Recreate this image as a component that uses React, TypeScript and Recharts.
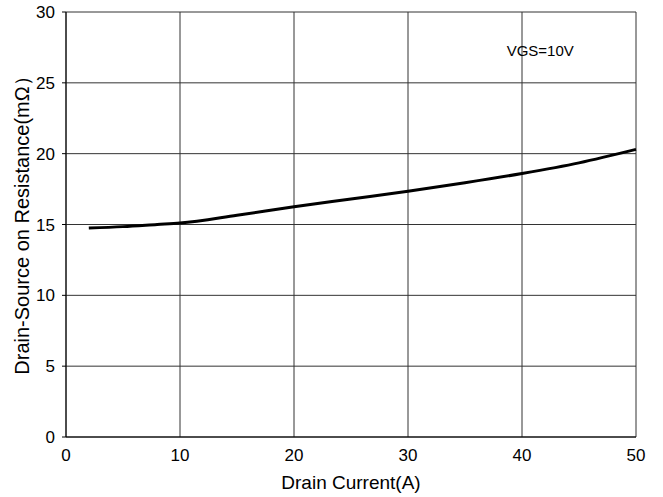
import React from 'react';
import {
    LineChart, Line, XAxis, YAxis, CartesianGrid, ReferenceDot,
} from 'recharts';

// Drain current (A) vs on-resistance (mOhm)
const current = [2, 5, 8, 10, 15, 20, 25, 30, 35, 40, 45, 50];
const rdsOn = [14.75, 14.85, 15.0, 15.1, 15.65, 16.25, 16.8, 17.35, 17.95, 18.6, 19.35, 20.3];

const xTicks = [0, 10, 20, 30, 40, 50];
const yTicks = [0, 5, 10, 15, 20, 25, 30];

const data = current.map((x, i) => ({ x, y: rdsOn[i] }));

const font = 'Arial, "Liberation Sans", sans-serif';

export default function App() {
    return (
        <div style={{ position: 'absolute', left: 0, top: 0, fontFamily: font }}>
            <LineChart
                width={663}
                height={497}
                data={data}
                margin={{ top: 12, right: 27, bottom: 0, left: 0 }}
            >
                <CartesianGrid stroke='#333' strokeWidth={1} />
                <XAxis
                    dataKey='x'
                    type='number'
                    domain={[0, 50]}
                    ticks={xTicks}
                    tickLine={false}
                    axisLine={{ stroke: '#000' }}
                    tick={{ fill: '#000', fontSize: 17, fontFamily: font }}
                    tickMargin={6}
                    height={60}
                    label={{ value: 'Drain Current(A)', position: 'insideBottom', offset: 8, fill: '#000', fontSize: 19, fontFamily: font }}
                />
                <YAxis
                    type='number'
                    domain={[0, 30]}
                    ticks={yTicks}
                    tickSize={4}
                    tickMargin={7}
                    tickLine={{ stroke: '#000' }}
                    axisLine={{ stroke: '#000' }}
                    tick={{ fill: '#000', fontSize: 17, fontFamily: font }}
                    width={66}
                    label={{ value: 'Drain-Source on Resistance(mΩ）', angle: -90, position: 'insideLeft', offset: 22, dy: -4, style: { textAnchor: 'middle' }, fill: '#000', fontSize: 20, fontFamily: font }}
                />
                <ReferenceDot
                    x={41.6}
                    y={27.3}
                    r={0}
                    stroke='none'
                    fill='none'
                    label={{ value: 'VGS=10V', position: 'center', fill: '#000', fontSize: 15, fontFamily: font }}
                />
                <Line
                    type='monotone'
                    dataKey='y'
                    stroke='#000'
                    strokeWidth={3}
                    dot={false}
                    isAnimationActive={false}
                />
            </LineChart>
        </div>
    );
}
